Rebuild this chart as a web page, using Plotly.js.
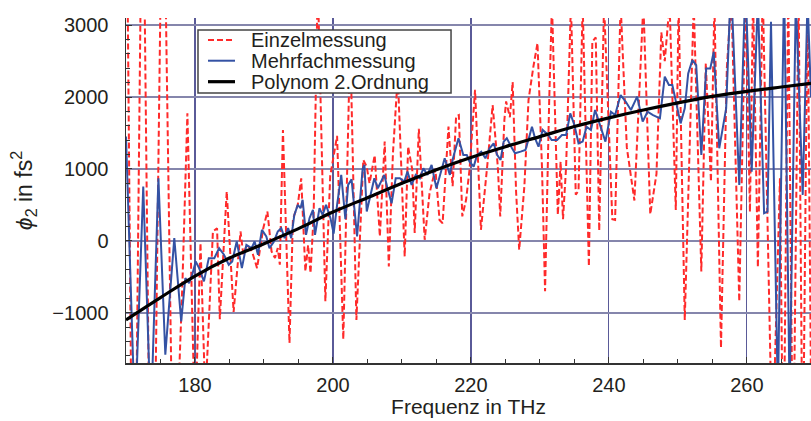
<!DOCTYPE html>
<html>
<head>
<meta charset="utf-8">
<script src="https://cdn.plot.ly/plotly-3.0.1.min.js"></script>
<style>
html,body{margin:0;padding:0;background:#fff;}
#chart{width:811px;height:421px;}
</style>
</head>
<body>
<div id="chart"></div>
<script>
// Einzelmessung (red dashed)
var einzelFreq = [170.0,171.1,172.4,173.75,175.35,176.9,178.2,178.9,180.0,180.8,181.5,182.6,183.2,183.6,184.6,185.6,186.6,187.0,187.5,188.0,188.4,189.0,189.9,190.5,191.1,191.6,192.0,192.3,192.75,193.7,194.2,194.9,195.4,196.0,196.4,196.75,197.2,197.8,198.9,199.6,200.6,201.5,202.5,203.4,204.4,204.9,205.3,206.05,206.8,207.5,208.1,208.7,209.4,210.05,210.4,210.9,211.5,211.85,212.45,213.3,214.0,214.85,215.45,215.9,216.75,217.35,217.85,218.25,218.75,219.3,219.8,220.6,221.45,222.45,223.15,223.9,224.25,224.85,225.1,225.65,226.05,226.55,227.0,227.75,228.35,229.05,229.65,230.3,230.75,231.35,231.75,232.6,233.0,233.35,233.8,234.5,235.2,235.6,236.2,237.1,237.6,238.1,238.6,239.3,240.5,240.9,241.7,242.6,243.7,245.0,246.0,246.9,247.6,248.1,248.8,249.7,250.1,251.0,252.3,253.4,254.05,254.8,255.3,256.25,257.1,257.75,258.9,259.8,260.45,260.9,261.6,262.3,263.7,264.8,265.3,266.0,266.7,267.5,268.1,268.8,269.3];
var einzelPhi = [6000,-6000,6000,-6000,6000,-4000,-520,1775,-2600,-30,-2200,130,176,-1090,685,-990,130,-190,-60,-100,-190,-380,176,407,-148,-240,-100,-333,1542,-1420,300,500,870,-426,-60,-450,360,3600,-840,900,1460,-1370,2800,-1100,1125,1030,800,1190,60,1380,-356,1220,2300,570,-218,1310,990,110,1560,14,660,1000,290,245,1590,760,1730,1750,340,570,990,2100,153,1125,1890,1030,338,1680,1940,1720,2210,680,-125,760,1960,2420,2750,1030,-700,1960,3300,360,1100,300,1030,3300,640,700,3300,-356,2770,2830,140,3300,300,290,3300,1300,560,3300,370,930,2900,2500,3300,430,3300,-1100,3300,-426,2470,824,3300,-1490,2400,3400,-843,3400,400,3400,-370,3500,-3000,870,-3500,3500,-3500,3500,-3500,3500,-2000];

// Mehrfachmessung (blue solid)
var mehrFreq = [170.0,171.3,172.5,173.6,174.7,175.7,177.0,178.0,178.6,179.15,179.6,180.1,180.6,181.3,182.0,182.8,183.5,184.2,184.9,185.4,186.05,186.8,187.45,188.2,188.65,189.13,189.7,190.34,190.8,191.45,192.0,192.5,193.0,193.5,193.95,194.4,194.9,195.3,195.6,196.1,196.6,197.1,197.4,198.05,198.5,199.0,199.64,200.1,200.6,201.2,201.8,202.2,202.7,203.5,204.3,204.56,204.9,205.5,206.0,206.5,206.97,207.45,207.9,208.5,209.1,209.7,210.35,210.8,211.4,212.0,212.6,213.1,213.7,214.3,215.0,215.65,216.2,216.95,217.4,218.2,218.9,219.4,219.8,220.4,220.9,221.5,222.1,222.7,223.3,223.8,224.3,224.75,225.2,225.96,226.4,227.2,227.9,228.4,228.85,229.3,229.8,230.4,231.2,231.7,232.5,233.2,233.8,234.4,235.0,235.6,236.2,236.76,237.4,238.0,238.7,239.5,240.3,240.9,241.7,242.45,243.2,244.1,244.9,245.6,246.4,247.4,248.1,248.7,249.2,249.8,250.4,251.0,251.5,252.1,252.66,253.4,254.1,254.7,255.2,256.0,257.0,257.7,258.9,259.8,260.7,261.6,262.5,263.0,263.5,264.5,265.4,266.2,267.1,268.1,268.8,269.3];
var mehrPhi = [1450,-2500,755,-2500,870,-1583,37,-1120,-519,-588,-472,-287,-380,-565,-241,-241,-102,-194,-333,-287,-9,-380,-56,-102,-9,-194,153,60,-102,-9,130,176,37,176,37,361,500,454,570,83,315,431,83,454,361,500,315,100,500,917,300,778,856,60,1000,1056,407,685,870,731,824,917,731,523,870,870,824,963,778,917,870,1009,917,1056,731,963,1148,917,1148,1426,1195,1195,1102,1032,1195,1241,1148,1287,1357,1195,1125,1380,1426,1287,1218,1241,1264,1426,1588,1426,1310,1542,1472,1403,1403,1472,1472,1773,1611,1357,1380,1588,1542,1820,1611,1380,1796,1750,2028,1935,1820,2005,1658,1796,1750,1704,2283,2167,2167,1912,1634,1843,2329,2514,2445,1195,2398,2398,2630,1287,1843,3600,778,3600,963,3370,384,407,3047,-2185,3600,-2185,3370,639,3370,2000];

// Polynom 2. Ordnung (black)
var polyFreq = [170,175,180,185,190,195,200,205,210,215,220,225,230,235,240,245,250,255,260,265,269.3];
var polyPhi = [-1100,-790,-490,-240,-40,170,400,600,800,990,1160,1310,1450,1590,1710,1820,1920,2010,2080,2140,2190];

var xTickVals = [180,200,220,240,260];
var yTickVals = [-1000,0,1000,2000,3000];
var seriesNames = ['Einzelmessung','Mehrfachmessung','Polynom 2.Ordnung'];

var FONT = 'Liberation Sans, Arial, Helvetica, sans-serif';
var TXT = '#231f20';

var colors = ['#ff2a2a', '#3452a4', '#000000'];
var widths = [2, 2, 3.2];
var dashes = ['6px,3px', 'solid', 'solid'];

var traces = [
  {x: einzelFreq, y: einzelPhi, type: 'scatter', mode: 'lines', name: seriesNames[0],
   line: {color: colors[0], width: widths[0], dash: dashes[0]}},
  {x: mehrFreq, y: mehrPhi, type: 'scatter', mode: 'lines', name: seriesNames[1],
   line: {color: colors[1], width: widths[1]}},
  {x: polyFreq, y: polyPhi, type: 'scatter', mode: 'lines', name: seriesNames[2],
   line: {color: colors[2], width: widths[2], shape: 'spline'}}
];

// legend box drawn with shapes + annotations (paper coords of the plot area)
var legBox = {x0: 0.1051, x1: 0.4745, y0: 0.7826, y1: 0.9652};
var legRowsY = [0.9362, 0.8762, 0.8154];
var shapes = [{
  type: 'rect', xref: 'paper', yref: 'paper',
  x0: legBox.x0, x1: legBox.x1, y0: legBox.y0, y1: legBox.y1,
  fillcolor: '#ffffff', line: {color: '#444444', width: 1.5}, layer: 'above'
}];
var annotations = [];
for (var i = 0; i < 3; i++) {
  shapes.push({type: 'line', xref: 'paper', yref: 'paper',
    x0: 0.1197, x1: 0.1591, y0: legRowsY[i], y1: legRowsY[i],
    line: {color: colors[i], width: widths[i], dash: dashes[i]}, layer: 'above'});
  annotations.push({xref: 'paper', yref: 'paper', x: 0.1796, y: legRowsY[i],
    xanchor: 'left', yanchor: 'middle', showarrow: false, text: seriesNames[i],
    font: {family: FONT, size: 20, color: TXT}});
}

var layout = {
  width: 811, height: 421,
  margin: {l: 126, r: 0, t: 18, b: 58},
  paper_bgcolor: '#ffffff', plot_bgcolor: '#ffffff',
  font: {family: FONT, size: 20, color: TXT},
  showlegend: false,
  shapes: shapes,
  annotations: annotations,
  xaxis: {
    range: [170, 269.3], tickvals: xTickVals, ticktext: xTickVals.map(String),
    showgrid: true, gridcolor: '#5a5a98', gridwidth: 1.2,
    showline: true, linecolor: '#333333', linewidth: 1.5,
    ticks: 'inside', ticklen: 6, tickcolor: '#333333',
    minor: {dtick: 5, ticks: 'inside', ticklen: 4, tickcolor: '#333333', showgrid: false},
    zeroline: false, ticklabelstandoff: 3,
    tickfont: {family: FONT, size: 20, color: TXT},
    title: {text: 'Frequenz in THz', font: {family: FONT, size: 21, color: TXT}, standoff: 2}
  },
  xaxis2: {
    range: [170, 269.3], overlaying: 'x', side: 'top', anchor: 'y',
    showgrid: false, showline: true, linecolor: '#888888', linewidth: 2,
    ticks: 'inside', ticklen: 4, tickcolor: '#555555', dtick: 5, tick0: 170,
    showticklabels: false, zeroline: false
  },
  yaxis: {
    range: [-1700, 3100], tickvals: yTickVals,
    showgrid: true, gridcolor: '#8586ac', gridwidth: 1.8,
    showline: true, linecolor: '#333333', linewidth: 1.5,
    ticks: 'inside', ticklen: 6, tickcolor: '#333333',
    minor: {dtick: 200, ticks: 'inside', ticklen: 4, tickcolor: '#333333', showgrid: false},
    zeroline: false, ticklabelstandoff: 12,
    tickfont: {family: FONT, size: 20, color: TXT},
    title: {text: '<i>\u03d5</i><sub>2</sub> in fs<sup>2</sup>', font: {family: FONT, size: 23, color: TXT}, standoff: 13}
  }
};

Plotly.newPlot('chart', traces, layout, {displayModeBar: false, staticPlot: true});
</script>
</body>
</html>
